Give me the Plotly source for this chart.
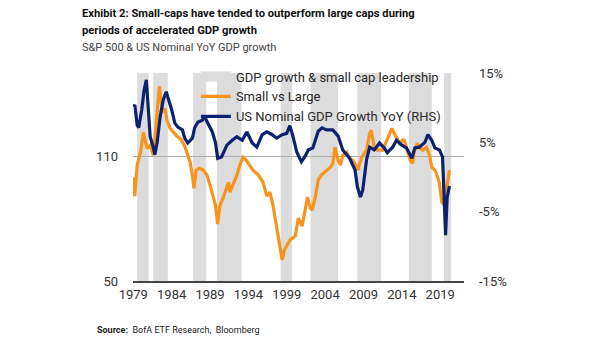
import plotly.graph_objects as go

# Small vs Large (LHS)
sl_year = [1979.0, 1979.2, 1979.5, 1979.7, 1980.0, 1980.3, 1980.5, 1980.8, 1981.2, 1981.6,
           1981.8, 1982.1, 1982.4, 1982.6, 1982.9, 1983.1, 1983.4, 1983.8, 1984.2, 1984.7,
           1985.2, 1985.7, 1986.1, 1986.4, 1986.7, 1986.9, 1987.2, 1987.6, 1988.1, 1988.6,
           1989.0, 1989.4, 1989.7, 1990.0, 1990.3, 1990.7, 1991.1, 1991.4, 1991.6, 1992.0,
           1992.5, 1992.9, 1993.3, 1993.7, 1994.1, 1994.6, 1995.3, 1995.9, 1996.4, 1996.8,
           1997.2, 1997.7, 1998.1, 1998.4, 1998.7, 1999.0, 1999.4, 2000.1, 2000.5, 2001.0,
           2001.4, 2001.7, 2002.1, 2002.3, 2002.7, 2003.1, 2003.5, 2004.0, 2004.7, 2005.0,
           2005.3, 2005.7, 2006.0, 2006.3, 2006.8, 2007.2, 2007.6, 2008.0, 2008.3, 2008.5,
           2008.8, 2009.2, 2009.4, 2009.8, 2010.0, 2010.4, 2010.8, 2011.5, 2012.0, 2012.7,
           2013.0, 2013.7, 2014.1, 2014.3, 2014.7, 2015.1, 2015.4, 2015.6, 2016.0, 2016.4,
           2016.7, 2017.2, 2017.6, 2017.9, 2018.3, 2018.5, 2018.9, 2019.2, 2019.5, 2019.7,
           2019.9, 2020.1, 2020.2]
sl_val = [99.9, 90.8, 105.7, 108.1, 112.9, 121.5, 117.7, 113.8, 115.3, 110.5,
          117.7, 129.7, 143.6, 136.9, 131.1, 133.0, 127.3, 123.4, 121.5, 119.6,
          118.2, 114.8, 110.5, 107.1, 100.9, 94.6, 103.3, 104.2, 103.3, 100.9,
          96.1, 91.3, 86.5, 77.4, 86.5, 89.8, 93.7, 97.5, 92.7, 96.1,
          100.9, 105.7, 109.5, 108.1, 105.7, 103.3, 100.9, 97.5, 90.8, 92.7,
          86.5, 75.4, 65.8, 60.1, 64.9, 67.3, 69.7, 71.6, 80.2, 76.4,
          85.5, 90.3, 85.0, 84.1, 89.8, 98.5, 100.9, 102.3, 104.7, 106.6,
          114.3, 108.1, 105.7, 110.5, 111.9, 109.0, 108.1, 105.7, 103.3, 106.6,
          109.5, 111.9, 112.9, 121.0, 122.5, 114.3, 112.9, 112.9, 117.7, 123.4,
          121.0, 116.2, 117.7, 117.7, 112.9, 108.1, 106.6, 111.9, 116.2, 113.8,
          112.9, 114.3, 110.5, 104.7, 103.3, 101.8, 97.0, 87.9, 86.5, 91.3,
          96.1, 102.3, 103.3]

# US Nominal GDP growth YoY, % (RHS)
gdp_year = [1979.0, 1979.2, 1979.5, 1979.7, 1980.1, 1980.4, 1980.7, 1980.9, 1981.2, 1981.6,
            1981.8, 1982.1, 1982.5, 1982.9, 1983.3, 1983.5, 1984.0, 1984.4, 1984.8, 1985.4,
            1985.7, 1986.1, 1986.7, 1987.0, 1987.4, 1988.0, 1988.3, 1988.7, 1989.3, 1989.7,
            1990.0, 1990.5, 1991.2, 1991.9, 1992.5, 1993.2, 1993.8, 1994.5, 1995.1, 1995.8,
            1996.4, 1997.1, 1997.7, 1998.4, 1999.0, 1999.4, 1999.8, 2000.3, 2000.9, 2001.4,
            2001.8, 2002.4, 2003.1, 2003.6, 2004.2, 2005.0, 2005.7, 2006.3, 2007.2, 2007.9,
            2008.2, 2008.6, 2008.9, 2009.4, 2009.8, 2010.4, 2011.1, 2011.7, 2012.1, 2012.8,
            2013.3, 2014.0, 2014.6, 2015.3, 2015.7, 2016.3, 2017.0, 2017.4, 2017.9, 2018.3,
            2018.9, 2019.3, 2019.5, 2019.7, 2019.9, 2020.2]
gdp_val = [10.1, 10.4, 7.5, 7.1, 9.7, 12.5, 14.0, 11.1, 5.8, 4.3,
           3.2, 4.9, 8.7, 11.1, 12.3, 11.5, 9.7, 7.8, 7.2, 6.8,
           5.6, 4.9, 5.6, 7.1, 7.9, 8.2, 8.7, 7.8, 6.5, 5.0,
           2.7, 2.9, 4.6, 5.3, 5.8, 5.3, 6.5, 4.9, 4.3, 6.1,
           6.5, 6.1, 5.6, 6.1, 6.3, 7.4, 5.9, 3.6, 2.2, 3.0,
           3.9, 4.2, 6.6, 7.1, 6.8, 6.8, 5.9, 3.9, 2.7, 1.0,
           -1.4, -2.9, -1.9, 2.5, 4.3, 3.9, 4.9, 4.2, 3.5, 4.3,
           5.3, 4.6, 4.2, 2.7, 4.2, 4.3, 5.0, 6.1, 5.3, 4.2,
           3.9, 2.9, -2.6, -8.4, -3.0, -1.3]

# Periods of GDP growth & small cap leadership (start, end)
band_start = [1979.5, 1981.6, 1986.8, 1989.9, 1998.2, 2002.1, 2008.2, 2014.9, 2019.5]
band_end = [1981.0, 1983.5, 1988.5, 1993.1, 1999.7, 2005.7, 2011.3, 2017.9, 2020.4]

x_ticks = [1979, 1984, 1989, 1994, 1999, 2004, 2009, 2014, 2019]
left_ticks = [50, 110]
right_ticks = [-15, -5, 5, 15]

FONT = "Roboto, sans-serif"
ORANGE = "#F7941D"
NAVY = "#0C2270"
BAND = "#DCDCDC"

fig = go.Figure()

for s, e in zip(band_start, band_end):
    fig.add_shape(type="rect", xref="x", yref="paper", x0=s, x1=e, y0=0, y1=1,
                  fillcolor=BAND, line=dict(width=0), layer="below")

fig.add_trace(go.Scatter(x=[None], y=[None], mode="lines", name="GDP growth & small cap leadership",
                         line=dict(color=BAND, width=12)))
fig.add_trace(go.Scatter(x=sl_year, y=sl_val, mode="lines", name="Small vs Large",
                         line=dict(color=ORANGE, width=3.2)))
fig.add_trace(go.Scatter(x=gdp_year, y=gdp_val, mode="lines", name="US Nominal GDP Growth YoY (RHS)",
                         line=dict(color=NAVY, width=3.2), yaxis="y2"))

fig.update_layout(
    width=605, height=341,
    margin=dict(l=133, r=141, t=73, b=60),
    paper_bgcolor="white", plot_bgcolor="rgba(0,0,0,0)",
    font=dict(family=FONT, size=13, color="#333333"),
    showlegend=True,
    legend=dict(x=0.19, y=1.055, xanchor="left", yanchor="top", bgcolor="rgba(0,0,0,0)",
                font=dict(size=13, color="#2a2a2a"), tracegroupgap=0, itemwidth=30),
    xaxis=dict(range=[1978.96, 2022.1], tickvals=x_ticks, showgrid=False, zeroline=False,
               showline=True, linecolor="#444444", linewidth=2, ticks="",
               tickfont=dict(size=13, color="#333333")),
    yaxis=dict(range=[50, 150], tickvals=left_ticks, showgrid=True, gridcolor="#AAAAAA",
               gridwidth=1, zeroline=False, showline=False, ticks="",
               ticklabelstandoff=14, tickfont=dict(size=13, color="#333333")),
    yaxis2=dict(range=[-15, 15], tickvals=right_ticks, ticktext=["-15%", "-5%", "5%", "15%"],
                overlaying="y", side="right", showgrid=False, zeroline=False, showline=False,
                ticks="", ticklabelstandoff=14, tickfont=dict(size=13, color="#333333")),
)

fig.add_annotation(text="<b>Exhibit 2: Small-caps have tended to outperform large caps during</b>",
                   xref="paper", yref="paper", x=-0.16, y=1.288, xanchor="left", yanchor="middle",
                   showarrow=False, font=dict(family=FONT, size=11.2, color="#111111"))
fig.add_annotation(text="<b>periods of accelerated GDP growth</b>",
                   xref="paper", yref="paper", x=-0.16, y=1.202, xanchor="left", yanchor="middle",
                   showarrow=False, font=dict(family=FONT, size=11.2, color="#111111"))
fig.add_annotation(text="S&P 500 & US Nominal YoY GDP growth",
                   xref="paper", yref="paper", x=-0.16, y=1.125, xanchor="left", yanchor="middle",
                   showarrow=False, font=dict(family=FONT, size=11, color="#444444"))
fig.add_annotation(text="<b>Source:</b>  BofA ETF Research,  Bloomberg",
                   xref="paper", yref="paper", x=-0.115, y=-0.236, xanchor="left", yanchor="middle",
                   showarrow=False, font=dict(family=FONT, size=9, color="#222222"))

fig.write_html("out.html")
